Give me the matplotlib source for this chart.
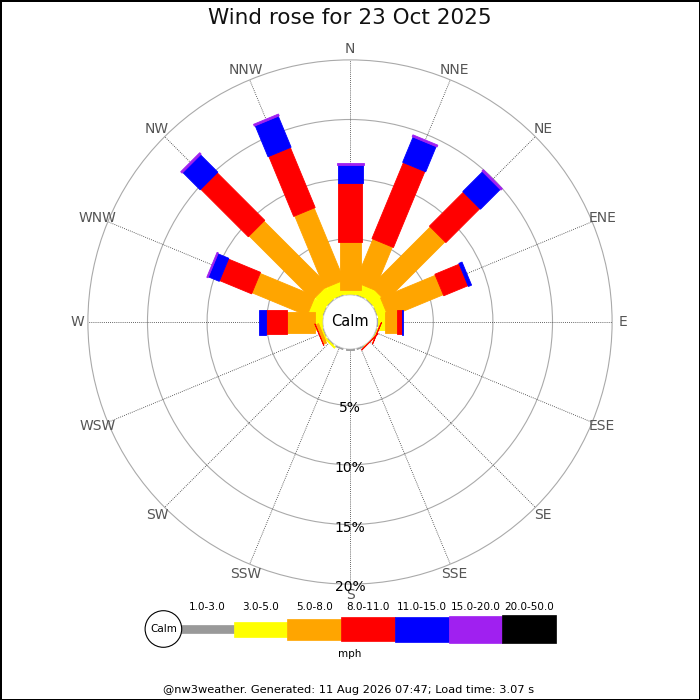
import matplotlib
matplotlib.use("Agg")
import matplotlib.pyplot as plt
from matplotlib.patches import Polygon, Circle, Rectangle
import numpy as np

# wind directions (clockwise from north)
directions = ["N", "NNE", "NE", "ENE", "E", "ESE", "SE", "SSE",
              "S", "SSW", "SW", "WSW", "W", "WNW", "NW", "NNW"]

# speed bands (mph) and their colours
bands = ["1.0-3.0", "3.0-5.0", "5.0-8.0", "8.0-11.0", "11.0-15.0", "15.0-20.0", "20.0-50.0"]
band_colors = ["#999999", "#ffff00", "#ffa500", "#ff0000", "#0000ff", "#a020f0", "#000000"]

# percentage of time per direction in each band
pct_1_3 = [0.38, 0.38, 0.38, 0.38, 0.38, 0.38, 0.30, 0.38,
           0.38, 0.38, 0.38, 0.38, 0.38, 0.38, 0.38, 0.38]
pct_3_5 = [0.32, 0.90, 0.99, 0.77, 0.57, 0.05, 0.03, 0.0,
           0.0, 0.0, 0.12, 0.12, 0.57, 1.16, 1.16, 1.07]
pct_5_8 = [4.02, 3.90, 7.04, 4.97, 0.98, 0.03, 0.03, 0.0,
           0.0, 0.0, 0.0, 0.28, 2.37, 5.00, 7.56, 6.55]
pct_8_11 = [4.95, 6.90, 4.03, 2.21, 0.42, 0.02, 0.02, 0.0,
            0.0, 0.0, 0.0, 0.03, 1.71, 2.91, 5.64, 5.45]
pct_11_15 = [1.51, 2.29, 2.35, 0.29, 0.13, 0.0, 0.0, 0.0,
             0.0, 0.0, 0.0, 0.0, 0.62, 0.98, 2.06, 2.81]
pct_15_20 = [0.15, 0.17, 0.17, 0.0, 0.0, 0.0, 0.0, 0.0,
             0.0, 0.0, 0.0, 0.0, 0.0, 0.12, 0.17, 0.17]
pct_20_50 = [0.0] * 16

rings = [5, 10, 15, 20]
title = "Wind rose for 23 Oct 2025"
footer = "@nw3weather. Generated: 11 Aug 2026 07:47; Load time: 3.07 s"

values = np.array([pct_1_3, pct_3_5, pct_5_8, pct_8_11, pct_11_15, pct_15_20, pct_20_50])

# geometry in pixels, centre of the rose at the origin
R0 = 23.7        # radius for 0 %
SCALE = 11.92    # pixels per percent
CALM_R = 27
band_widths = [7.7, 15, 21, 23.3, 25, 27, 28.3]


def rad(p):
    return R0 + SCALE * p


def bar_corners(theta, r0, r1, w):
    t = np.radians(theta)
    u = np.array([np.sin(t), np.cos(t)])
    v = np.array([np.cos(t), -np.sin(t)])
    return [r0 * u - w / 2 * v, r0 * u + w / 2 * v, r1 * u + w / 2 * v, r1 * u - w / 2 * v]


fig = plt.figure(figsize=(7, 7), dpi=100, edgecolor="black", linewidth=0.9)
ax = fig.add_axes([0, 0, 1, 1])
ax.set_xlim(-350, 350)
ax.set_ylim(-378, 322)
ax.axis("off")

# grid
for p in rings:
    ax.add_patch(Circle((0, 0), rad(p), fill=False, ec="#aaaaaa", lw=0.8, zorder=1))
    ax.text(0, -rad(p) - 3, f"{p}%", ha="center", va="center", fontsize=10, color="black", zorder=12)

angles = np.arange(16) * 22.5
for ang, name in zip(angles, directions):
    t = np.radians(ang)
    ax.plot([CALM_R * np.sin(t), rad(20) * np.sin(t)], [CALM_R * np.cos(t), rad(20) * np.cos(t)],
            color="#333333", lw=0.6, linestyle=(0, (1, 1.5)), zorder=1.5)
    ax.text(273 * np.sin(t), 273 * np.cos(t), name, ha="center", va="center",
            fontsize=10, color="#555555")

# stacked bars
cum = np.zeros(16)
for b in range(len(bands)):
    for i, ang in enumerate(angles):
        v = values[b, i]
        if v > 0:
            pts = bar_corners(ang, rad(cum[i]), rad(cum[i] + v), band_widths[b])
            ax.add_patch(Polygon(pts, closed=True, fc=band_colors[b], ec=band_colors[b],
                                 lw=0.6, zorder=2 + b))
    cum = cum + values[b]

ax.add_patch(Circle((0, 0), CALM_R, fc="white", ec="#cccccc", lw=0.5, zorder=10))
ax.text(0, 0, "Calm", ha="center", va="center", fontsize=10.5, zorder=11)

ax.text(0, 304, title, ha="center", va="center", fontsize=15.5, color="#111111")

# legend
leg_y = -307
x0 = -170
step = 53.7
for b in range(len(bands)):
    h = band_widths[b]
    ax.add_patch(Rectangle((x0 + b * step, leg_y - h / 2), step, h,
                           fc=band_colors[b], ec=band_colors[b], lw=0.5, zorder=2))
    ax.text(x0 + b * step + step / 2, -285, bands[b], ha="center", va="center", fontsize=7.5)
ax.add_patch(Circle((-186.6, leg_y), 18.3, fc="white", ec="black", lw=0.8, zorder=3))
ax.text(-186.6, leg_y, "Calm", ha="center", va="center", fontsize=7.5, zorder=4)
ax.text(0, -332, "mph", ha="center", va="center", fontsize=7.5)

ax.text(-187, -368, footer, ha="left", va="center", fontsize=8.2)

fig.savefig("out.png", dpi=100)
